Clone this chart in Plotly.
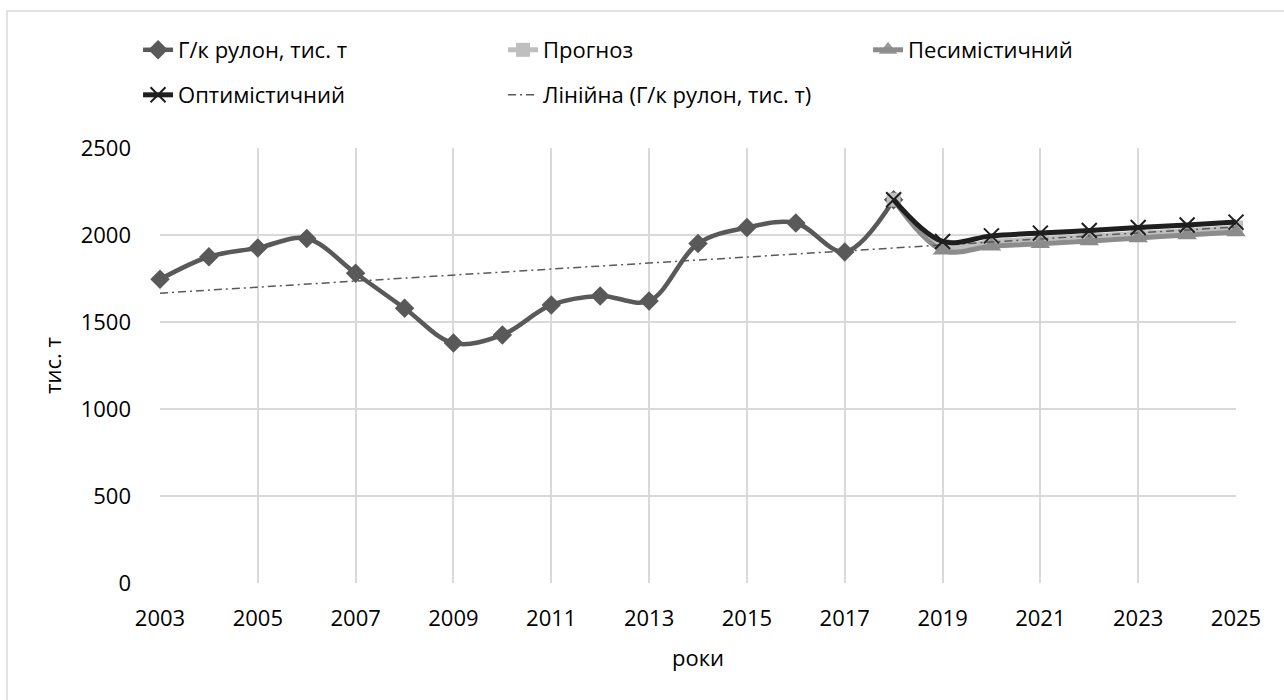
import numpy as np
import plotly.graph_objects as go

# Historical output of hot-rolled coil, thousand tonnes
years_hist = [2003, 2004, 2005, 2006, 2007, 2008, 2009, 2010,
              2011, 2012, 2013, 2014, 2015, 2016, 2017, 2018]
coil = [1745, 1875, 1926, 1980, 1780, 1579, 1379, 1426,
        1598, 1650, 1621, 1951, 2043, 2069, 1903, 2203]

# Scenario forecasts (start from the last actual year)
years_fc = [2018, 2019, 2020, 2021, 2022, 2023, 2024, 2025]
forecast = [2203, 1936, 1962, 1978, 1994, 2010, 2026, 2043]
pessimistic = [2203, 1912, 1935, 1950, 1965, 1983, 2000, 2017]
optimistic = [2203, 1963, 1995, 2011, 2026, 2043, 2057, 2074]

x_ticks = list(range(2003, 2026, 2))
y_ticks = [0, 500, 1000, 1500, 2000, 2500]

# Linear trend fitted to the historical series, extended to 2025
years_trend = list(range(2003, 2026))
slope, intercept = np.polyfit(years_hist, coil, 1)
trend = [slope * y + intercept for y in years_trend]

FONT = "Open Sans"
FS = 22
W, H = 1284, 700

fig = go.Figure()

fig.add_trace(go.Scatter(
    x=years_hist, y=coil, name="Г/к рулон, тис. т", mode="lines+markers",
    line=dict(color="#595959", width=4.5, shape="spline", smoothing=1),
    marker=dict(symbol="diamond", size=15, color="#595959"),
    cliponaxis=False, legend="legend"))

fig.add_trace(go.Scatter(
    x=years_fc, y=forecast, name="Прогноз", mode="lines+markers",
    line=dict(color="#BFBFBF", width=5, shape="spline", smoothing=1),
    marker=dict(symbol="square", size=14, color="#BFBFBF"),
    cliponaxis=False, legend="legend"))

fig.add_trace(go.Scatter(
    x=years_fc, y=pessimistic, name="Песимістичний", mode="lines+markers",
    line=dict(color="#8C8C8C", width=5, shape="spline", smoothing=1),
    marker=dict(symbol="triangle-up", size=17, color="#8C8C8C",
                opacity=[0] + [1] * (len(years_fc) - 1)),
    cliponaxis=False, legend="legend"))

fig.add_trace(go.Scatter(
    x=years_trend, y=trend, name="Лінійна (Г/к рулон, тис. т)", mode="lines",
    line=dict(color="#595959", width=1.5, dash="8px,4px,2px,4px"),
    cliponaxis=False, legend="legend2"))

fig.add_trace(go.Scatter(
    x=years_fc, y=optimistic, name="Оптимістичний", mode="lines+markers",
    line=dict(color="#1F1F1F", width=5, shape="spline", smoothing=1),
    marker=dict(symbol="x-thin", size=15, color="#1F1F1F",
                line=dict(width=2, color="#1F1F1F")),
    cliponaxis=False, legend="legend2", legendrank=1))

legend_common = dict(orientation="h", xanchor="left", yanchor="middle",
                     entrywidth=320, entrywidthmode="pixels",
                     font=dict(family=FONT, size=FS, color="#000000"),
                     bgcolor="rgba(0,0,0,0)", traceorder="normal")

fig.update_layout(
    width=W, height=H,
    margin=dict(l=160, r=48, t=148, b=117, autoexpand=False),
    paper_bgcolor="white", plot_bgcolor="white",
    font=dict(family=FONT, size=FS, color="#000000"),
    showlegend=True,
    legend=dict(x=-0.0204, y=1.2253, **legend_common),
    legend2=dict(x=-0.0204, y=1.1218, **legend_common),
    xaxis=dict(range=[2003, 2025], tickvals=x_ticks, ticktext=[str(v) for v in x_ticks],
               showgrid=True, gridcolor="#D9D9D9", gridwidth=1.5,
               zeroline=False, showline=False, ticks="", ticklabelstandoff=20,
               title=dict(text="роки", standoff=19, font=dict(size=FS))),
    yaxis=dict(range=[0, 2500], tickvals=y_ticks,
               showgrid=True, gridcolor="#D9D9D9", gridwidth=1.5,
               zeroline=False, showline=False, ticks="", ticklabelstandoff=28,
               title=dict(text="тис. т", standoff=12, font=dict(size=FS))),
    shapes=[dict(type="rect", xref="paper", yref="paper",
                 x0=-0.1422, x1=1.06, y0=-0.30, y1=1.315,
                 line=dict(color="#D9D9D9", width=1.5), layer="below")],
)

fig.write_html("out.html")
